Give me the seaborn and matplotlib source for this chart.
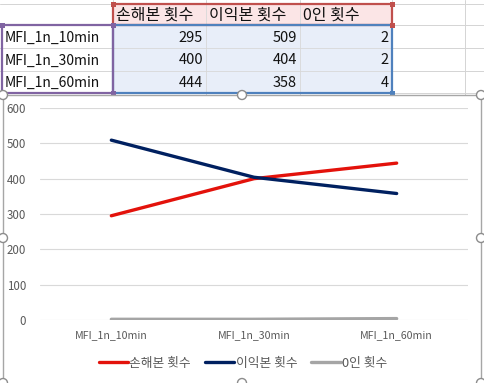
import numpy as np
import pandas as pd
import seaborn as sns
import matplotlib.pyplot as plt
from matplotlib.patches import Rectangle, Circle

# Data
categories = ["MFI_1n_10min", "MFI_1n_30min", "MFI_1n_60min"]
series_names = ["손해본 횟수", "이익본 횟수", "0인 횟수"]
loss_counts = [295, 400, 444]
gain_counts = [509, 404, 358]
zero_counts = [2, 2, 4]
y_ticks = [0, 100, 200, 300, 400, 500, 600]

colors = ["#E3120B", "#002060", "#A5A5A5"]

df = pd.DataFrame({
    "category": categories * 3,
    "series": [series_names[0]] * 3 + [series_names[1]] * 3 + [series_names[2]] * 3,
    "value": loss_counts + gain_counts + zero_counts,
})

sns.set_theme(style="white")
plt.rcParams["font.family"] = ["Noto Sans CJK KR", "DejaVu Sans"]

W, H = 484, 383
fig = plt.figure(figsize=(W / 100, H / 100), dpi=100)

# background axes in pixel coords (sheet + table)
bg = fig.add_axes([0, 0, 1, 1])
bg.set_xlim(0, W)
bg.set_ylim(H, 0)
bg.axis("off")

# sheet gridlines
for y in [4, 25, 48, 71, 93]:
    bg.plot([0, W], [y, y], color="#D4D4D4", lw=0.7, zorder=0)
for x in [113, 206, 300, 392, 465]:
    bg.plot([x, x], [0, 95], color="#D4D4D4", lw=0.7, zorder=0)

col_x = [2, 113, 206, 300, 392]
row_y = [4, 25, 48, 71, 93]

# header fill / border
bg.add_patch(Rectangle((113, 4), 392 - 113, 21, facecolor="#FBE5E6", edgecolor="none", zorder=1))
bg.add_patch(Rectangle((113, 25), 392 - 113, 68, facecolor="#E8EEF9", edgecolor="none", zorder=1))
for x in col_x[1:4]:
    bg.plot([x, x], [4, 93], color="#D8D8D8", lw=0.6, zorder=1.5)
for y in row_y[1:4]:
    bg.plot([113, 392], [y, y], color="#D8D8D8", lw=0.6, zorder=1.5)
    bg.plot([2, 113], [y, y], color="#D8D8D8", lw=0.6, zorder=1.5)

bg.add_patch(Rectangle((113, 4), 392 - 113, 21, facecolor="none", edgecolor="#C0504D", lw=1.6, zorder=3))
bg.add_patch(Rectangle((113, 25), 392 - 113, 68, facecolor="none", edgecolor="#4F81BD", lw=1.6, zorder=3))
bg.add_patch(Rectangle((2, 25), 111, 68, facecolor="none", edgecolor="#8064A2", lw=1.6, zorder=3))
for (x, y, c) in [(113, 4, "#C0504D"), (392, 4, "#C0504D"), (392, 25, "#C0504D"),
                  (2, 25, "#8064A2"), (113, 25, "#8064A2"), (113, 93, "#8064A2"),
                  (392, 93, "#4F81BD")]:
    bg.add_patch(Rectangle((x - 2.5, y - 2.5), 5, 5, facecolor=c, edgecolor="none", zorder=4))

for j, name in enumerate(series_names):
    bg.text(col_x[j + 1] + 3, 15, name, fontsize=11.5, color="#111111", va="center", ha="left", zorder=5)
vals = [loss_counts, gain_counts, zero_counts]
for i, cat in enumerate(categories):
    yc = (row_y[i + 1] + row_y[i + 2]) / 2 + 1
    bg.text(5, yc, cat, fontsize=10, color="#111111", va="center", ha="left", zorder=5)
    for j in range(3):
        bg.text(col_x[j + 2] - 3, yc, str(vals[j][i]), fontsize=10.5, color="#111111",
                va="center", ha="right", zorder=5)

# chart area
bg.add_patch(Rectangle((3, 95), 478, 300, facecolor="white", edgecolor="#A6A6A6", lw=1.0, zorder=6))
for (x, y) in [(3, 95), (242, 95), (481, 95), (3, 238), (481, 238), (3, 383), (242, 383), (481, 383)]:
    bg.add_patch(Circle((x, y), 4.5, facecolor="white", edgecolor="#8C8C8C", lw=1.0, zorder=7))

left, right, top, bottom = 40, 468, 108, 320
ax = fig.add_axes([left / W, (H - bottom) / H, (right - left) / W, (bottom - top) / H])
ax.set_zorder(10)
ax.patch.set_alpha(0)

sns.lineplot(data=df, x="category", y="value", hue="series", palette=colors,
             linewidth=2.4, ax=ax, sort=False, legend=False)

ax.set_xlim(-0.5, 2.5)
ax.set_ylim(0, 600)
ax.set_yticks(y_ticks)
ax.set_xlabel("")
ax.set_ylabel("")
ax.grid(axis="y", color="#D9D9D9", lw=0.8)
ax.set_axisbelow(True)
for s in ax.spines.values():
    s.set_visible(False)
ax.tick_params(axis="y", length=0, pad=10, labelsize=8.3, labelcolor="#595959")
ax.tick_params(axis="x", length=0, pad=7, labelsize=7.6, labelcolor="#595959")

handles = [plt.Line2D([], [], color=c, lw=2.4) for c in colors]
fig.legend(handles, series_names, loc="center", bbox_to_anchor=(243 / W, (H - 363) / H),
           ncol=3, frameon=False, fontsize=9.2, handlelength=2.3, handletextpad=0.1,
           columnspacing=1.1, labelcolor="#595959")

plt.savefig("out.png", dpi=100)
